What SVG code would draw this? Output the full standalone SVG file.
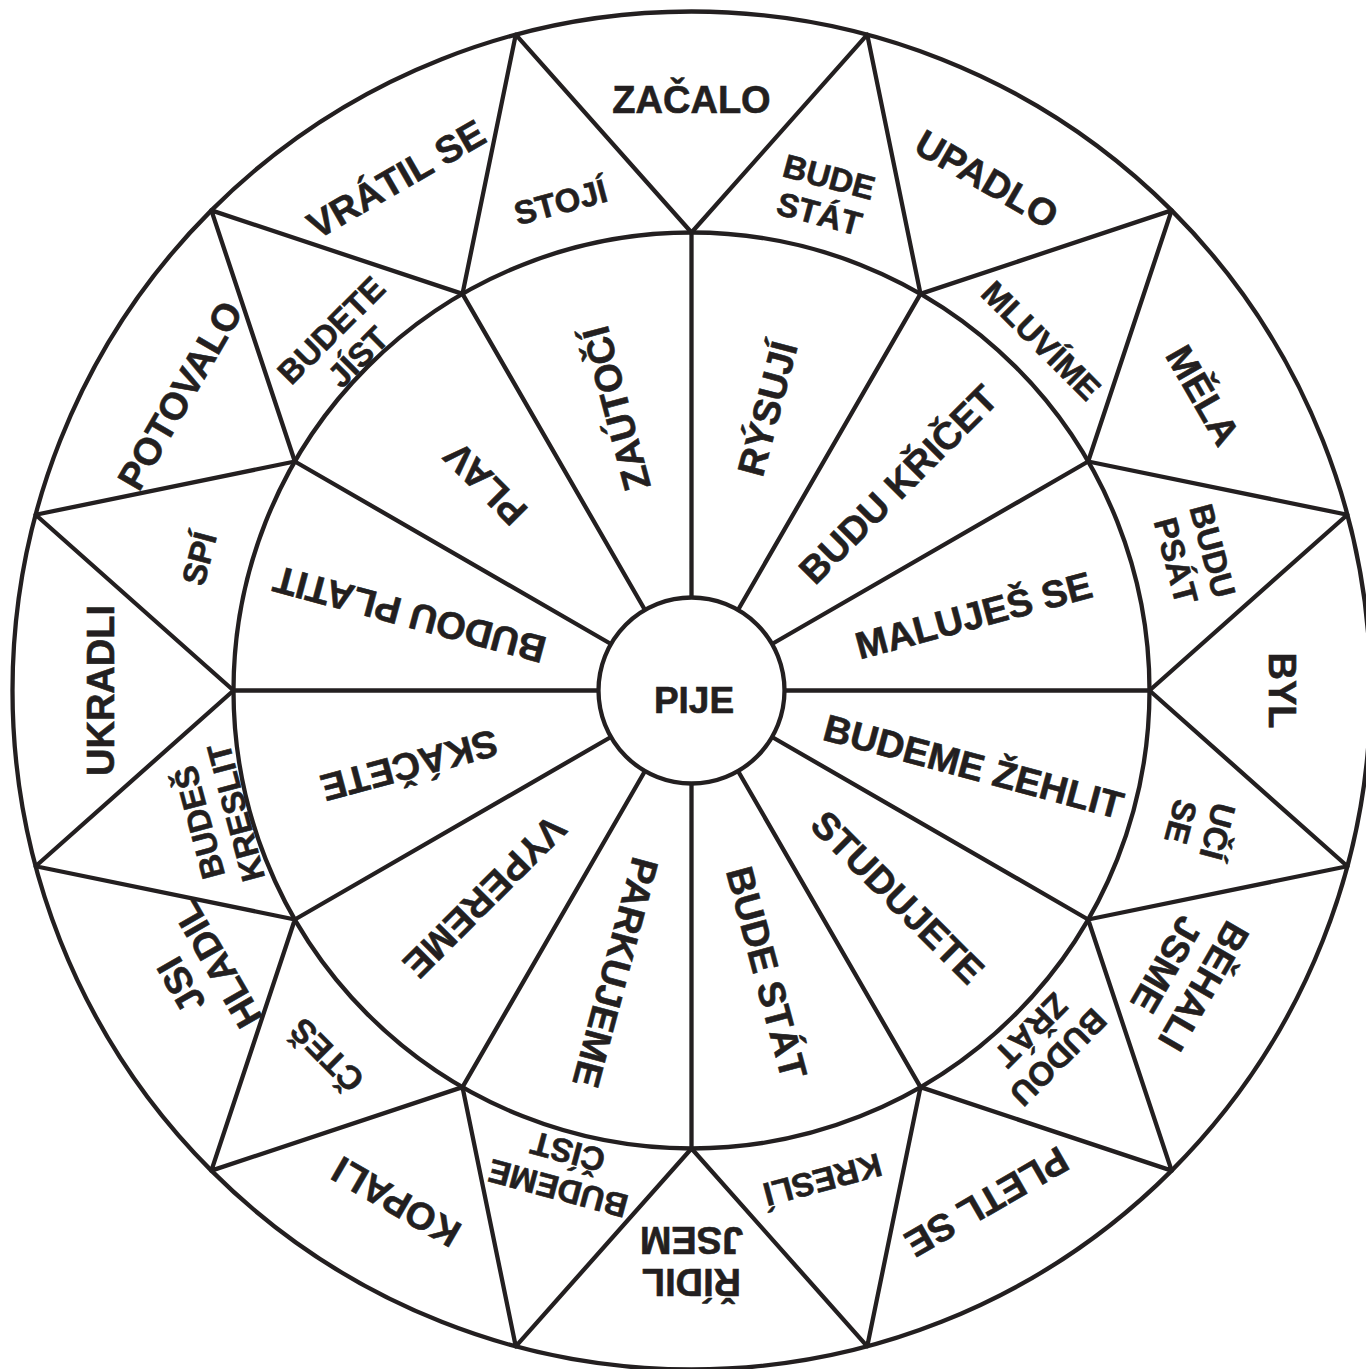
<svg xmlns="http://www.w3.org/2000/svg" width="1366" height="1369" viewBox="0 0 1366 1369">
<style>
.ln{fill:none;stroke:#231f20;stroke-width:4.3;stroke-linejoin:round;stroke-linecap:butt}
.t{font-family:"Liberation Sans",Arial,Helvetica,sans-serif;font-weight:bold;fill:#231f20;stroke:#231f20;stroke-width:0.6;text-anchor:middle}
.big{font-size:38px}
.sm{font-size:33px}
.ctr{font-size:37px}
</style>
<rect width="1366" height="1369" fill="#ffffff"/>
<g transform="translate(691.5,690.5)">
<g id="connectors">
<circle class="ln" cx="0" cy="0" r="679"/>
<circle class="ln" cx="0" cy="0" r="458"/>
<circle class="ln" cx="0" cy="0" r="93"/>
<path class="ln" d="M0,-458 L175.74,-655.86 L229,-396.64 L480.13,-480.13 L396.64,-229 L655.86,-175.74 L458,0 L655.86,175.74 L396.64,229 L480.13,480.13 L229,396.64 L175.74,655.86 L0,458 L-175.74,655.86 L-229,396.64 L-480.13,480.13 L-396.64,229 L-655.86,175.74 L-458,0 L-655.86,-175.74 L-396.64,-229 L-480.13,-480.13 L-229,-396.64 L-175.74,-655.86 Z"/>
<path class="ln" d="M0,-93 L0,-458 M46.5,-80.54 L229,-396.64 M80.54,-46.5 L396.64,-229 M93,0 L458,0 M80.54,46.5 L396.64,229 M46.5,80.54 L229,396.64 M0,93 L0,458 M-46.5,80.54 L-229,396.64 M-80.54,46.5 L-396.64,229 M-93,0 L-458,0 M-80.54,-46.5 L-396.64,-229 M-46.5,-80.54 L-229,-396.64"/>
</g>
<g id="center"><text class="t ctr" x="2.5" y="9" dy=".36em">PIJE</text></g>

<g id="inner-15"><text class="t big" transform="rotate(-75)" x="292" y="0" dy=".36em">RÝSUJÍ</text></g>
<g id="inner-45"><text class="t big" transform="rotate(-45)" x="292" y="0" dy=".36em">BUDU KŘIČET</text></g>
<g id="inner-75"><text class="t big" transform="rotate(-15)" x="292" y="0" dy=".36em">MALUJEŠ SE</text></g>
<g id="inner-105"><text class="t big" transform="rotate(15)" x="292" y="0" dy=".36em">BUDEME ŽEHLIT</text></g>
<g id="inner-135"><text class="t big" transform="rotate(45)" x="292" y="0" dy=".36em">STUDUJETE</text></g>
<g id="inner-165"><text class="t big" transform="rotate(75)" x="292" y="0" dy=".36em">BUDE STÁT</text></g>
<g id="inner-195"><text class="t big" transform="rotate(105)" x="292" y="0" dy=".36em">PARKUJEME</text></g>
<g id="inner-225"><text class="t big" transform="rotate(135)" x="292" y="0" dy=".36em">VYPEREME</text></g>
<g id="inner-255"><text class="t big" transform="rotate(165)" x="292" y="0" dy=".36em">SKÁČETE</text></g>
<g id="inner-285"><text class="t big" transform="rotate(195)" x="292" y="0" dy=".36em">BUDOU PLATIT</text></g>
<g id="inner-315"><text class="t big" transform="rotate(225)" x="292" y="0" dy=".36em">PLAV</text></g>
<g id="inner-345"><text class="t big" transform="rotate(255)" x="292" y="0" dy=".36em">ZAÚTOČÍ</text></g>

<g id="spike-15" transform="rotate(15)"><text class="t sm" x="0" y="-532" dy=".36em">BUDE</text><text class="t sm" x="0" y="-494" dy=".36em">STÁT</text></g>
<g id="spike-45" transform="rotate(45)"><text class="t sm" x="0" y="-495" dy=".36em">MLUVÍME</text></g>
<g id="spike-75" transform="rotate(75)"><text class="t sm" x="0" y="-540" dy=".36em">BUDU</text><text class="t sm" x="0" y="-502" dy=".36em">PSÁT</text></g>
<g id="spike-105" transform="rotate(105)"><text class="t sm" x="0" y="-545" dy=".36em">UČÍ</text><text class="t sm" x="0" y="-507" dy=".36em">SE</text></g>
<g id="spike-135" transform="rotate(135)"><text class="t sm" x="0" y="-519" dy=".36em">BUDOU</text><text class="t sm" x="0" y="-481" dy=".36em">ZŘÁT</text></g>
<g id="spike-165" transform="rotate(165)"><text class="t sm" x="0" y="-507" dy=".36em">KRESLÍ</text></g>
<g id="spike-195" transform="rotate(195)"><text class="t sm" x="0" y="-516" dy=".36em">BUDEME</text><text class="t sm" x="0" y="-478" dy=".36em">ČÍST</text></g>
<g id="spike-225" transform="rotate(225)"><text class="t sm" x="0" y="-516" dy=".36em">ČTEŠ</text></g>
<g id="spike-255" transform="rotate(255)"><text class="t sm" x="0" y="-510" dy=".36em">BUDEŠ</text><text class="t sm" x="0" y="-472" dy=".36em">KRESLIT</text></g>
<g id="spike-285" transform="rotate(285)"><text class="t sm" x="0" y="-510" dy=".36em">SPÍ</text></g>
<g id="spike-315" transform="rotate(315)"><text class="t sm" x="0" y="-510" dy=".36em">BUDETE</text><text class="t sm" x="0" y="-472" dy=".36em">JÍST</text></g>
<g id="spike-345" transform="rotate(345)"><text class="t sm" x="0" y="-506" dy=".36em">STOJÍ</text></g>

<g id="outer-0"><text class="t big" x="0" y="-591" dy=".36em">ZAČALO</text></g>
<g id="outer-30" transform="rotate(30)"><text class="t big" x="0" y="-591" dy=".36em">UPADLO</text></g>
<g id="outer-60" transform="rotate(60)"><text class="t big" x="0" y="-591" dy=".36em">MĚLA</text></g>
<g id="outer-90" transform="rotate(90)"><text class="t big" x="0" y="-591" dy=".36em">BYL</text></g>
<g id="outer-120" transform="rotate(120)"><text class="t big" x="0" y="-592" dy=".36em">BĚHALI</text><text class="t big" x="0" y="-549" dy=".36em">JSME</text></g>
<g id="outer-150" transform="rotate(150)"><text class="t big" x="0" y="-591" dy=".36em">PLETL SE</text></g>
<g id="outer-180" transform="rotate(180)"><text class="t big" x="0" y="-592" dy=".36em">ŘÍDIL</text><text class="t big" x="0" y="-550" dy=".36em">JSEM</text></g>
<g id="outer-210" transform="rotate(210)"><text class="t big" x="0" y="-591" dy=".36em">KOPALI</text></g>
<g id="outer-240" transform="rotate(240)"><text class="t big" x="0" y="-590" dy=".36em">JSI</text><text class="t big" x="0" y="-548" dy=".36em">HLADIL</text></g>
<g id="outer-270" transform="rotate(270)"><text class="t big" x="0" y="-591" dy=".36em">UKRADLI</text></g>
<g id="outer-300" transform="rotate(300)"><text class="t big" x="0" y="-591" dy=".36em">POTOVALO</text></g>
<g id="outer-330" transform="rotate(330)"><text class="t big" x="0" y="-591" dy=".36em">VRÁTIL SE</text></g>
</g>
</svg>
